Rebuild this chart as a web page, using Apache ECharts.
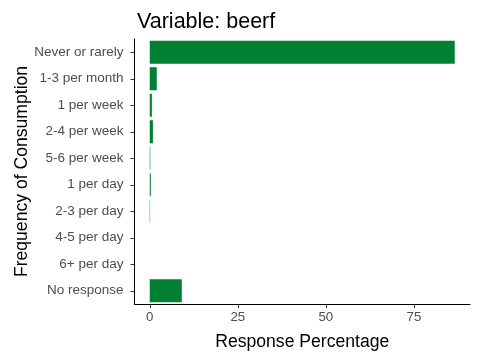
<!DOCTYPE html>
<html><head><meta charset="utf-8">
<script src="https://cdn.jsdelivr.net/npm/echarts@6/dist/echarts.min.js"></script>
<style>html,body{margin:0;padding:0;background:#fff}#c{width:480px;height:360px}</style>
</head><body><div id="c"></div>
<script>
const categories = ["Never or rarely","1-3 per month","1 per week","2-4 per week","5-6 per week","1 per day","2-3 per day","4-5 per day","6+ per day","No response"];
const values = [86.6, 2.0, 0.6, 0.9, 0.15, 0.3, 0.1, 0, 0, 9.1];
const xTicks = [0, 25, 50, 75];
const chart = echarts.init(document.getElementById('c'), null, {renderer:'canvas'});
const font = 'Liberation Sans, Arial, sans-serif';
chart.setOption({
  animation:false,
  title:{text:'Variable: beerf', left:132, top:6, textStyle:{fontFamily:font, fontSize:21.5, fontWeight:'normal', color:'#000'}},
  grid:{left:134.5, right:10, top:39, bottom:56, containLabel:false, outerBoundsMode:'none'},
  xAxis:{type:'value', min:-4.33, max:90.93,
    name:'Response Percentage', nameLocation:'middle', nameGap:29, nameMoveOverlap:false,
    nameTextStyle:{fontFamily:font, fontSize:17.6, color:'#000'},
    axisLine:{show:true, onZero:false, lineStyle:{color:'#000', width:1}},
    axisTick:{show:true, length:4, lineStyle:{color:'#333'}, customValues:xTicks},
    axisLabel:{customValues:xTicks, fontFamily:font, fontSize:13.3, color:'#4d4d4d', margin:7},
    splitLine:{show:false}},
  yAxis:{type:'category', data:categories, inverse:true,
    name:'Frequency of Consumption', nameLocation:'middle', nameGap:103, nameMoveOverlap:false,
    nameTextStyle:{fontFamily:font, fontSize:17.6, color:'#000'},
    axisLine:{show:true, onZero:false, lineStyle:{color:'#000', width:1}},
    axisTick:{show:true, alignWithLabel:true, length:4, lineStyle:{color:'#333'}},
    axisLabel:{fontFamily:font, fontSize:13.5, color:'#4d4d4d', margin:11}},
  series:[{type:'bar', data:values, barWidth:'87%', itemStyle:{color:'#008033'}}]
});
</script></body></html>
